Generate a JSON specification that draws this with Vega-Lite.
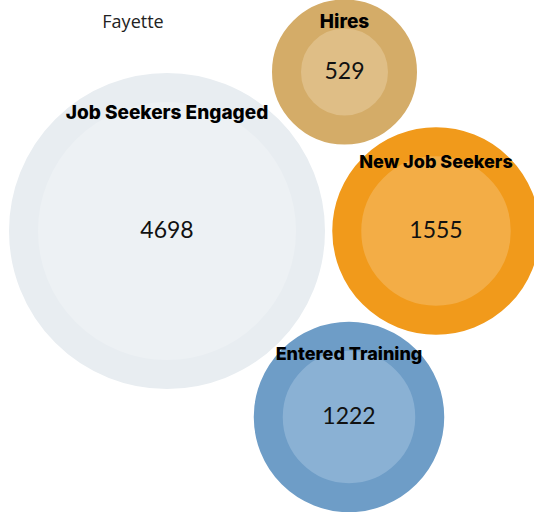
{
  "$schema": "https://vega.github.io/schema/vega-lite/v6.json",
  "width": 534,
  "height": 512,
  "padding": 0,
  "autosize": {"type": "none"},
  "background": "white",
  "config": {"view": {"stroke": null}},
  "data": {"values": [
    {"label": "Job Seekers Engaged", "value": 4698, "x": 167, "y": 231},
    {"label": "Hires", "value": 529, "x": 344.5, "y": 72},
    {"label": "New Job Seekers", "value": 1555, "x": 436, "y": 231},
    {"label": "Entered Training", "value": 1222, "x": 349, "y": 417}
  ]},
  "encoding": {
    "x": {"field": "x", "type": "quantitative", "scale": {"domain": [0, 534], "nice": false, "zero": false}, "axis": null},
    "y": {"field": "y", "type": "quantitative", "scale": {"domain": [0, 512], "nice": false, "zero": false, "reverse": true}, "axis": null}
  },
  "layer": [
    {
      "mark": {"type": "circle", "strokeWidth": 29, "opacity": 1, "fillOpacity": 1, "strokeOpacity": 1},
      "encoding": {
        "size": {"field": "value", "type": "quantitative", "scale": {"type": "pow", "exponent": 0.9, "domain": [529, 4698], "range": [13456, 82369], "zero": false}, "legend": null},
        "fill": {"field": "label", "type": "nominal", "scale": {"domain": ["Job Seekers Engaged", "Hires", "New Job Seekers", "Entered Training"], "range": ["#edf1f4", "#dfbe86", "#f3ad46", "#8ab1d4"]}, "legend": null},
        "stroke": {"field": "label", "type": "nominal", "scale": {"domain": ["Job Seekers Engaged", "Hires", "New Job Seekers", "Entered Training"], "range": ["#e8edf1", "#d4ac68", "#f19a1b", "#6e9dc7"]}, "legend": null}
      }
    },
    {
      "mark": {"type": "text", "font": "Lato", "fontSize": 23, "fontWeight": 400, "baseline": "middle", "align": "center", "color": "#111111"},
      "encoding": {"text": {"field": "value", "type": "quantitative", "format": "d"}}
    },
    {
      "transform": [{"filter": "datum.label === 'Job Seekers Engaged'"}],
      "mark": {"type": "text", "font": "Inter", "fontSize": 19, "fontWeight": 800, "baseline": "middle", "align": "center", "color": "#000000", "dy": -118},
      "encoding": {"text": {"field": "label", "type": "nominal"}}
    },
    {
      "transform": [{"filter": "datum.label === 'Hires'"}],
      "mark": {"type": "text", "font": "Inter", "fontSize": 19, "fontWeight": 800, "baseline": "middle", "align": "center", "color": "#000000", "dy": -50},
      "encoding": {"text": {"field": "label", "type": "nominal"}}
    },
    {
      "transform": [{"filter": "datum.label === 'New Job Seekers'"}],
      "mark": {"type": "text", "font": "Inter", "fontSize": 18, "fontWeight": 800, "baseline": "middle", "align": "center", "color": "#000000", "dy": -68},
      "encoding": {"text": {"field": "label", "type": "nominal"}}
    },
    {
      "transform": [{"filter": "datum.label === 'Entered Training'"}],
      "mark": {"type": "text", "font": "Inter", "fontSize": 18, "fontWeight": 800, "baseline": "middle", "align": "center", "color": "#000000", "dy": -62},
      "encoding": {"text": {"field": "label", "type": "nominal"}}
    },
    {
      "data": {"values": [{"name": "Fayette", "tx": 133, "ty": 23}]},
      "mark": {"type": "text", "font": "Open Sans", "fontSize": 18, "fontWeight": 400, "baseline": "middle", "align": "center", "color": "#222222", "letterSpacing": 0.5},
      "encoding": {
        "x": {"field": "tx", "type": "quantitative"},
        "y": {"field": "ty", "type": "quantitative"},
        "text": {"field": "name", "type": "nominal"}
      }
    }
  ]
}
